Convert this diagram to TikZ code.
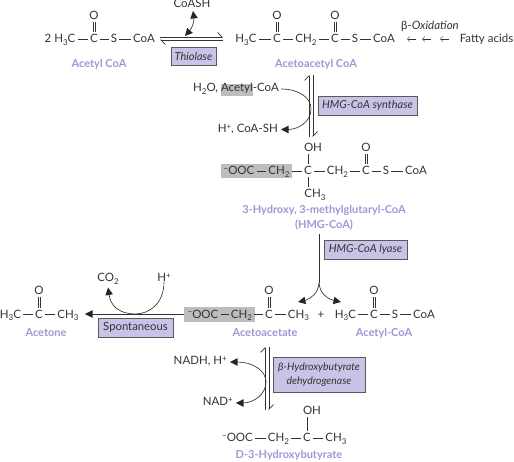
\documentclass[tikz,border=0pt]{standalone}
\usepackage{fontspec}
\setmainfont{Lato}
\usetikzlibrary{arrows.meta}
\definecolor{ink}{HTML}{333333}
\definecolor{lab}{HTML}{A295D6}
\definecolor{enz}{HTML}{CBC2E8}
\definecolor{gry}{HTML}{BDBDBF}
\newcommand\dn[1]{\raisebox{-2.5pt}{\footnotesize #1}}
\newcommand\up[1]{\raisebox{3.5pt}{\footnotesize #1}}
\newcommand\mn{\raisebox{3.5pt}{\footnotesize −}}
\newcommand\hb[2]{\draw[bond,transform canvas={yshift=1pt}] (#1.mid east)--(#2.mid west);}
\newcommand\db[2]{\draw[bond,transform canvas={xshift=0.9pt}] (#1.north)--(#2.south);\draw[bond,transform canvas={xshift=-0.9pt}] (#1.north)--(#2.south);}
\newcommand\headat[2]{\fill[black!85,shift={(#1)},rotate=#2] (0,0)--(7.5,3.8)--(7.5,-3.8)--cycle;}
\tikzset{
 atom/.style={inner sep=0.4pt,anchor=mid,text=ink,font=\fontsize{11.5}{13}\selectfont},
 txt/.style={atom,inner sep=0pt},
 lbl/.style={inner sep=0pt,anchor=mid,text=lab,font=\fontsize{11}{15}\selectfont\bfseries,align=center},
 enzyme/.style={draw=black!65,line width=0.9pt,fill=enz,inner sep=0pt,text=ink,align=center,font=\fontsize{11}{14}\selectfont\itshape},
 bond/.style={draw=ink,line width=0.55pt,shorten >=1.6pt,shorten <=1.6pt},
 eqline/.style={draw=ink,line width=0.8pt,-{Straight Barb[harpoon,length=4.5pt,width=9pt,line width=0.7pt]}},
 bent/.style={draw=ink,line width=0.65pt},
 hilite/.style={fill=gry,draw=none}
}
\begin{document}
\begin{tikzpicture}[x=1pt,y=-1pt]
\useasboundingbox (0,0) rectangle (514,462);
% grey highlights
\fill[hilite] (221,84) rectangle (253,96);
\fill[hilite] (221,164) rectangle (292,178);
\fill[hilite] (184,307) rectangle (255,322);
% Acetyl CoA
\node[atom] (a1) at (60,40) {2 H\dn{3}C};
\node[atom] (a2) at (94,40) {C};
\node[atom] (a3) at (114,40) {S};
\node[atom] (a4) at (144,40) {CoA};
\node[atom] (a5) at (94,17) {O};
\hb{a1}{a2}\hb{a2}{a3}\hb{a3}{a4}\db{a2}{a5}
\node[lbl] (acl) at (99,64.5) {Acetyl CoA};
% Thiolase
\coordinate (t1) at (160,37); \coordinate (t2) at (223,37);
\coordinate (t3) at (223,40); \coordinate (t4) at (160,40);
\draw[eqline] (t1)--(t2);
\draw[eqline] (t3)--(t4);
\node[enzyme,minimum width=45pt,minimum height=18pt] (thio) at (193.5,56) {Thiolase};
\node[txt] (coash) at (192,5) {CoASH};
\coordinate (c1) at (185,36); \coordinate (c1b) at (189.5,31);
\coordinate (c2) at (193,11); \coordinate (c2b) at (194,18);
\draw[bent] (c1b) .. controls (192,28) and (194,23) .. (c2b);
\headat{c1}{48}
\headat{c2}{-82}
% Acetoacetyl CoA
\node[atom] (b1) at (246,40) {H\dn{3}C};
\node[atom] (b2) at (277,40) {C};
\node[atom] (b3) at (306,40) {CH\dn{2}};
\node[atom] (b4) at (335,40) {C};
\node[atom] (b5) at (355,40) {S};
\node[atom] (b6) at (384,40) {CoA};
\node[atom] (b7) at (277,17) {O};
\node[atom] (b8) at (335,17) {O};
\hb{b1}{b2}\hb{b2}{b3}\hb{b3}{b4}\hb{b4}{b5}\hb{b5}{b6}\db{b2}{b7}\db{b4}{b8}
\node[lbl] (aal) at (316,64.5) {Acetoacetyl CoA};
\node[txt] (box) at (430,27) {β-{\itshape Oxidation}};
\node[txt] (fa) at (486.5,40) {Fatty acids};
\coordinate (f1) at (416,39); \coordinate (f2) at (407,39);
\coordinate (f3) at (431,39); \coordinate (f4) at (422,39);
\coordinate (f5) at (449,39); \coordinate (f6) at (440,39);
\draw[ink,line width=0.5pt,-{Straight Barb[length=2.5pt,width=5pt,line width=0.5pt]}] (f1)--(f2);
\draw[ink,line width=0.5pt,-{Straight Barb[length=2.5pt,width=5pt,line width=0.5pt]}] (f3)--(f4);
\draw[ink,line width=0.5pt,-{Straight Barb[length=2.5pt,width=5pt,line width=0.5pt]}] (f5)--(f6);
% HMG-CoA synthase
\coordinate (s1) at (309,137); \coordinate (s2) at (309,75);
\coordinate (s3) at (313,75); \coordinate (s4) at (313,137);
\draw[eqline] (s1)--(s2);
\draw[eqline] (s3)--(s4);
\node[enzyme,minimum width=99pt,minimum height=19pt] (syn) at (367.5,105.5) {HMG-CoA synthase};
\node[txt,anchor=mid east] (w1) at (279,89) {H\dn{2}O, Acetyl-CoA};
\node[txt,anchor=mid east] (w2) at (278,130) {H\up{+}, CoA-SH};
\coordinate (w3) at (281,129.5); \coordinate (w4) at (288,129.5);
\draw[bent] ([xshift=2pt]w1.mid east) .. controls (298,89) and (311,97) .. (311,109) .. controls (311,122) and (298,129.5) .. (w4);
\headat{w3}{0}
% HMG-CoA
\node[atom] (h1) at (239,172) {\mn OOC};
\node[atom] (h2) at (279,172) {CH\dn{2}};
\node[atom] (h3) at (308,172) {C};
\node[atom] (h4) at (337.5,172) {CH\dn{2}};
\node[atom] (h5) at (366,172) {C};
\node[atom] (h6) at (386,172) {S};
\node[atom] (h7) at (416,172) {CoA};
\node[atom] (h8) at (313,149) {OH};
\node[atom] (h9) at (366,149) {O};
\node[atom] (h10) at (315,195) {CH\dn{3}};
\hb{h1}{h2}\hb{h2}{h3}\hb{h3}{h4}\hb{h4}{h5}\hb{h5}{h6}\hb{h6}{h7}\db{h5}{h9}
\draw[bond] (h3.north)--(h3.north|-h8.south);
\draw[bond] (h3.south)--(h3.south|-h10.north);
\node[lbl,anchor=center] (hl) at (324,218) {3-Hydroxy, 3-methylglutaryl-CoA\\(HMG-CoA)};
% Lyase
\coordinate (y1) at (319,234); \coordinate (y2) at (319,283);
\coordinate (y3) at (298,302); \coordinate (y3b) at (305,300.5);
\coordinate (y4) at (341,302); \coordinate (y4b) at (334,300.5);
\draw[draw=ink,line width=0.7pt] (y1)--(y2);
\draw[bent] (y2) .. controls (318,293) and (312,298) .. (y3b);
\draw[bent] (y2) .. controls (320,293) and (326,298) .. (y4b);
\headat{y3}{12}
\headat{y4}{168}
\node[enzyme,minimum width=83pt,minimum height=19pt] (lya) at (365.5,249.5) {HMG-CoA lyase};
% Acetone
\node[atom] (n1) at (10.5,315.5) {H\dn{3}C};
\node[atom] (n2) at (39,315.5) {C};
\node[atom] (n3) at (68,315.5) {CH\dn{3}};
\node[atom] (n4) at (39,292) {O};
\hb{n1}{n2}\hb{n2}{n3}\db{n2}{n4}
\node[lbl] (nl) at (46,334) {Acetone};
% Acetoacetate
\node[atom] (p1) at (203,315.5) {\mn OOC};
\node[atom] (p2) at (241.5,315.5) {CH\dn{2}};
\node[atom] (p3) at (269,315.5) {C};
\node[atom] (p4) at (298.5,315.5) {CH\dn{3}};
\node[atom] (p5) at (269,292) {O};
\hb{p1}{p2}\hb{p2}{p3}\hb{p3}{p4}\db{p3}{p5}
\node[lbl] (pl) at (265,334) {Acetoacetate};
\node[atom] (plus) at (321,315.5) {+};
% Acetyl-CoA
\node[atom] (q1) at (345.5,315.5) {H\dn{3}C};
\node[atom] (q2) at (374,315.5) {C};
\node[atom] (q3) at (395,315.5) {S};
\node[atom] (q4) at (424,315.5) {CoA};
\node[atom] (q5) at (374,292) {O};
\hb{q1}{q2}\hb{q2}{q3}\hb{q3}{q4}\db{q2}{q5}
\node[lbl] (ql) at (384,334) {Acetyl-CoA};
% Spontaneous
\coordinate (r1) at (184,314); \coordinate (r2) at (85,314); \coordinate (r3) at (91,314);
\draw[draw=ink,line width=0.8pt] (r1)--(r3);
\headat{r2}{0}
\node[enzyme,minimum width=75pt,minimum height=19pt,font=\fontsize{11.3}{14}\selectfont] (spo) at (135.5,327.5) {Spontaneous};
\node[txt] (co2) at (108,279) {CO\dn{2}};
\node[txt] (hp) at (164,279) {H\up{+}};
\coordinate (co3) at (108,287.5); \coordinate (co4) at (109,294);
\draw[bent] (hp.south) .. controls (164,303) and (150,314) .. (135,314) .. controls (120,314) and (110,306) .. (co4);
\headat{co3}{-81}
% Dehydrogenase
\coordinate (d1) at (265,410); \coordinate (d2) at (265,347);
\coordinate (d3) at (269,347); \coordinate (d4) at (269,410);
\draw[eqline] (d1)--(d2);
\draw[eqline] (d3)--(d4);
\node[enzyme,minimum width=92pt,minimum height=35pt,font=\fontsize{10.4}{14}\selectfont\itshape] (deh) at (319,374.5) {β-Hydroxybutyrate\\[-0.5pt]dehydrogenase};
\node[txt,anchor=mid east] (u1) at (227,362) {NADH, H\up{+}};
\node[txt,anchor=mid east] (u2) at (233,403) {NAD\up{+}};
\coordinate (u3) at (230,362); \coordinate (u4) at (237,362);
\coordinate (u5) at (236,403); \coordinate (u6) at (243,403);
\draw[bent] (u4) .. controls (252,362) and (266,370) .. (266,382) .. controls (266,394) and (254,403) .. (u6);
\headat{u3}{0}
\headat{u5}{0}
% Hydroxybutyrate
\node[atom] (v1) at (237.5,439) {\mn OOC};
\node[atom] (v2) at (278.5,439) {CH\dn{2}};
\node[atom] (v3) at (307,439) {C};
\node[atom] (v4) at (336,439) {CH\dn{3}};
\node[atom] (v5) at (312,412) {OH};
\hb{v1}{v2}\hb{v2}{v3}\hb{v3}{v4}
\draw[bond] (v3.north)--(v3.north|-v5.south);
\node[lbl] (vl) at (289,456) {D-3-Hydroxybutyrate};
\end{tikzpicture}
\end{document}
